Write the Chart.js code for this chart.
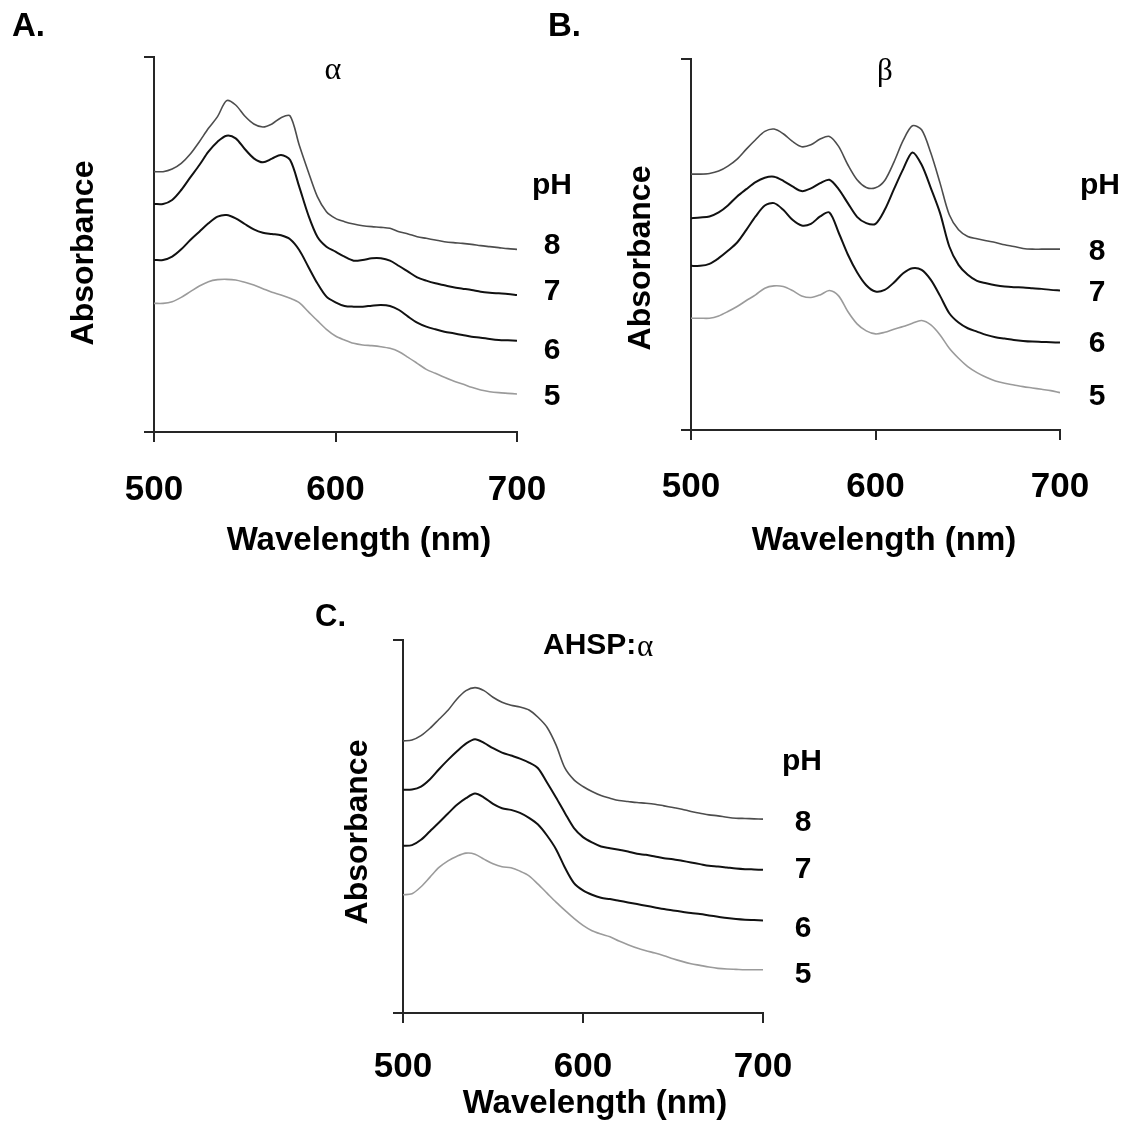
<!DOCTYPE html>
<html>
<head>
<meta charset="utf-8">
<script src="https://cdn.jsdelivr.net/npm/chart.js@4.4.0/dist/chart.umd.min.js"></script>
<style>
  body { margin: 0; background: #fff; }
  #wrap { position: relative; width: 1125px; height: 1130px; }
  #wrap canvas { position: absolute; left: 0; top: 0; }
</style>
</head>
<body>
<div id="wrap">
  <canvas id="chartA" width="1125" height="1130"></canvas>
  <canvas id="chartB" width="1125" height="1130"></canvas>
  <canvas id="chartC" width="1125" height="1130"></canvas>
</div>
<script>
// wavelength grid (nm)
const wavelengths = [500, 505, 510, 515, 520, 525, 530, 535, 540, 545,
  550, 555, 560, 565, 570, 575, 580, 585, 590, 595,
  600, 605, 610, 615, 620, 625, 630, 635, 640, 645,
  650, 655, 660, 665, 670, 675, 680, 685, 690, 695, 700];
const xTickValues = [500, 600, 700];
const phLevels = ["8", "7", "6", "5"];

// panel A: alpha (arbitrary absorbance units, curves offset)
const alphaPH8 = [781, 781, 789, 806, 834, 871, 911, 946, 994, 981, 948, 924, 915, 924, 943, 948, 861, 781, 706, 661,
  641, 631, 624, 619, 616, 614, 611, 601, 594, 586, 581, 576, 571, 568, 566, 563, 559, 556, 553, 550, 548];
const alphaPH7 = [684, 684, 696, 726, 764, 801, 841, 871, 889, 881, 849, 821, 809, 820, 831, 816, 736, 651, 586, 556,
  541, 526, 514, 516, 521, 521, 514, 498, 481, 464, 454, 446, 440, 434, 430, 426, 421, 418, 416, 414, 411];
const alphaPH6 = [516, 516, 526, 548, 576, 601, 626, 646, 651, 641, 624, 608, 598, 594, 590, 578, 546, 496, 446, 406,
  389, 378, 376, 376, 379, 381, 378, 366, 346, 328, 316, 308, 301, 296, 291, 286, 283, 279, 276, 275, 274];
const alphaPH5 = [386, 386, 391, 404, 421, 438, 451, 457, 458, 456, 449, 441, 430, 419, 411, 401, 388, 361, 334, 308,
  288, 276, 266, 261, 259, 256, 251, 241, 224, 206, 188, 176, 164, 153, 144, 134, 126, 121, 118, 116, 114];

// panel B: beta
const betaPH8 = [767, 767, 769, 776, 791, 812, 842, 870, 895, 902, 888, 865, 849, 855, 872, 880, 850, 795, 750, 727,
  726, 748, 803, 868, 912, 900, 830, 740, 645, 600, 580, 573, 567, 562, 555, 550, 544, 542, 542, 542, 542];
const betaPH7 = [635, 637, 640, 652, 673, 700, 722, 743, 756, 759, 747, 730, 716, 724, 740, 750, 722, 680, 639, 620,
  618, 660, 722, 782, 832, 795, 725, 650, 550, 495, 465, 447, 440, 434, 430, 428, 427, 425, 423, 420, 418];
const betaPH6 = [492, 492, 498, 515, 537, 562, 600, 640, 673, 680, 660, 630, 613, 618, 640, 652, 592, 526, 473, 434,
  415, 420, 442, 470, 485, 480, 450, 402, 350, 322, 305, 295, 285, 278, 274, 270, 267, 265, 264, 263, 262];
const betaPH5 = [335, 335, 335, 342, 355, 370, 388, 405, 425, 432, 430, 418, 402, 397, 405, 418, 402, 355, 318, 297,
  288, 293, 302, 310, 320, 328, 315, 285, 245, 215, 190, 172, 158, 147, 140, 135, 130, 126, 122, 118, 112];

// panel C: AHSP:alpha
const ahspPH8 = [817, 820, 833, 855, 882, 909, 943, 968, 977, 968, 948, 933, 924, 919, 910, 888, 858, 805, 735, 700,
  680, 665, 653, 645, 638, 635, 632, 630, 627, 622, 617, 612, 605, 600, 595, 592, 588, 585, 584, 583, 582];
const ahspPH7 = [670, 671, 680, 702, 732, 760, 786, 809, 822, 811, 795, 782, 773, 764, 752, 735, 692, 647, 600, 555,
  528, 512, 500, 495, 490, 485, 478, 475, 470, 465, 462, 457, 452, 447, 442, 440, 437, 434, 432, 431, 430];
const ahspPH6 = [502, 504, 520, 546, 572, 599, 625, 645, 659, 647, 628, 615, 610, 601, 586, 566, 533, 492, 436, 390,
  368, 355, 346, 342, 337, 332, 327, 322, 317, 312, 308, 304, 300, 297, 293, 289, 285, 282, 280, 279, 278];
const ahspPH5 = [355, 358, 379, 408, 437, 457, 471, 480, 477, 462, 448, 439, 436, 426, 412, 387, 360, 333, 308, 284,
  263, 247, 237, 229, 216, 205, 195, 187, 180, 172, 163, 155, 148, 143, 138, 134, 132, 131, 130, 130, 130];

const SANS = "'Liberation Sans', Arial, sans-serif";
const SERIF = "'Liberation Serif', 'Times New Roman', serif";
const AXIS_COLOR = "#262626";
const lineStyles = [
  { color: "#4d4d4d", width: 1.6 }, // pH 8
  { color: "#111111", width: 2 },   // pH 7
  { color: "#111111", width: 2 },   // pH 6
  { color: "#9b9b9b", width: 1.6 }, // pH 5
];

// draws panel letters, axis titles, greek titles and the pH labels
function textPlugin(id, items) {
  return {
    id: id,
    afterDraw(chart) {
      const ctx = chart.ctx;
      ctx.fillStyle = "#000";
      ctx.textBaseline = "middle";
      items.forEach((t) => {
        ctx.save();
        ctx.font = t.font;
        ctx.textAlign = t.align || "center";
        ctx.translate(t.x, t.y);
        if (t.rotate) ctx.rotate(t.rotate);
        ctx.fillText(t.text, 0, 0);
        ctx.restore();
      });
    },
  };
}

function phItems(xPh, yPh, xNum, yNums) {
  const items = [{ text: "pH", x: xPh, y: yPh, font: "bold 30px " + SANS }];
  phLevels.forEach((p, i) => {
    items.push({ text: p, x: xNum, y: yNums[i], font: "bold 30px " + SANS });
  });
  return items;
}

function axisTitles(xTitle, yTitle) {
  return [
    { text: "Wavelength (nm)", x: xTitle[0], y: xTitle[1], font: "bold 33px " + SANS },
    { text: "Absorbance", x: yTitle[0], y: yTitle[1], font: "bold 32px " + SANS, rotate: -Math.PI / 2 },
  ];
}

function drawPanel(canvasId, series, p) {
  const ctx = document.getElementById(canvasId).getContext("2d");
  return new Chart(ctx, {
    type: "line",
    data: {
      datasets: series.map((vals, i) => ({
        label: "pH " + phLevels[i],
        data: wavelengths.map((w, j) => ({ x: w, y: vals[j] })),
        borderColor: lineStyles[i].color,
        borderWidth: lineStyles[i].width,
        pointRadius: 0,
        tension: 0.3,
        fill: false,
      })),
    },
    options: {
      responsive: false,
      animation: false,
      events: [],
      layout: {
        padding: { left: p.left - 100, right: 1125 - p.right, top: p.top, bottom: 1130 - p.bottom - p.xH },
      },
      plugins: { legend: { display: false }, tooltip: { enabled: false } },
      scales: {
        x: {
          type: "linear",
          min: 500,
          max: 700,
          afterBuildTicks: (s) => { s.ticks = xTickValues.map((v) => ({ value: v })); },
          afterFit: (s) => { s.height = p.xH; },
          ticks: {
            color: "#000",
            font: { family: SANS, size: 35, weight: "bold" },
            padding: p.tickPad,
            maxRotation: 0,
          },
          grid: { drawOnChartArea: false, drawTicks: true, tickLength: 10, color: AXIS_COLOR, lineWidth: 2 },
          border: { display: true, color: AXIS_COLOR, width: 2 },
        },
        y: {
          min: 0,
          max: p.yMax,
          afterBuildTicks: (s) => { s.ticks = [{ value: s.min }, { value: s.max }]; },
          afterFit: (s) => { s.width = 100; },
          ticks: { display: false },
          grid: { drawOnChartArea: false, drawTicks: true, tickLength: 10, color: AXIS_COLOR, lineWidth: 2 },
          border: { display: true, color: AXIS_COLOR, width: 2 },
        },
      },
    },
    plugins: [textPlugin(canvasId + "_text", p.texts)],
  });
}

drawPanel("chartA", [alphaPH8, alphaPH7, alphaPH6, alphaPH5], {
  left: 154, right: 517, top: 57, bottom: 432, xH: 120, tickPad: 27, yMax: 1125,
  texts: [
    { text: "A.", x: 12, y: 27, font: "bold 33px " + SANS, align: "left" },
    { text: "α", x: 333, y: 71, font: "32px " + SERIF },
  ].concat(axisTitles([359, 541], [84, 253]), phItems(552, 186, 552, [246, 292, 351, 397])),
});

drawPanel("chartB", [betaPH8, betaPH7, betaPH6, betaPH5], {
  left: 691, right: 1060, top: 59, bottom: 430, xH: 120, tickPad: 26, yMax: 1112,
  texts: [
    { text: "B.", x: 548, y: 27, font: "bold 33px " + SANS, align: "left" },
    { text: "β", x: 885, y: 72, font: "31px " + SERIF },
  ].concat(axisTitles([884, 541], [641, 258]), phItems(1100, 186, 1097, [252, 293, 344, 397])),
});

drawPanel("chartC", [ahspPH8, ahspPH7, ahspPH6, ahspPH5], {
  left: 403, right: 763, top: 640, bottom: 1013, xH: 110, tickPad: 23, yMax: 1120,
  texts: [
    { text: "C.", x: 315, y: 617, font: "bold 31px " + SANS, align: "left" },
    { text: "AHSP:", x: 543, y: 646, font: "bold 30px " + SANS, align: "left" },
    { text: "α", x: 637, y: 648, font: "31px " + SERIF, align: "left" },
  ].concat(axisTitles([595, 1104], [358, 832]), phItems(802, 762, 803, [823, 870, 929, 975])),
});
</script>
</body>
</html>
